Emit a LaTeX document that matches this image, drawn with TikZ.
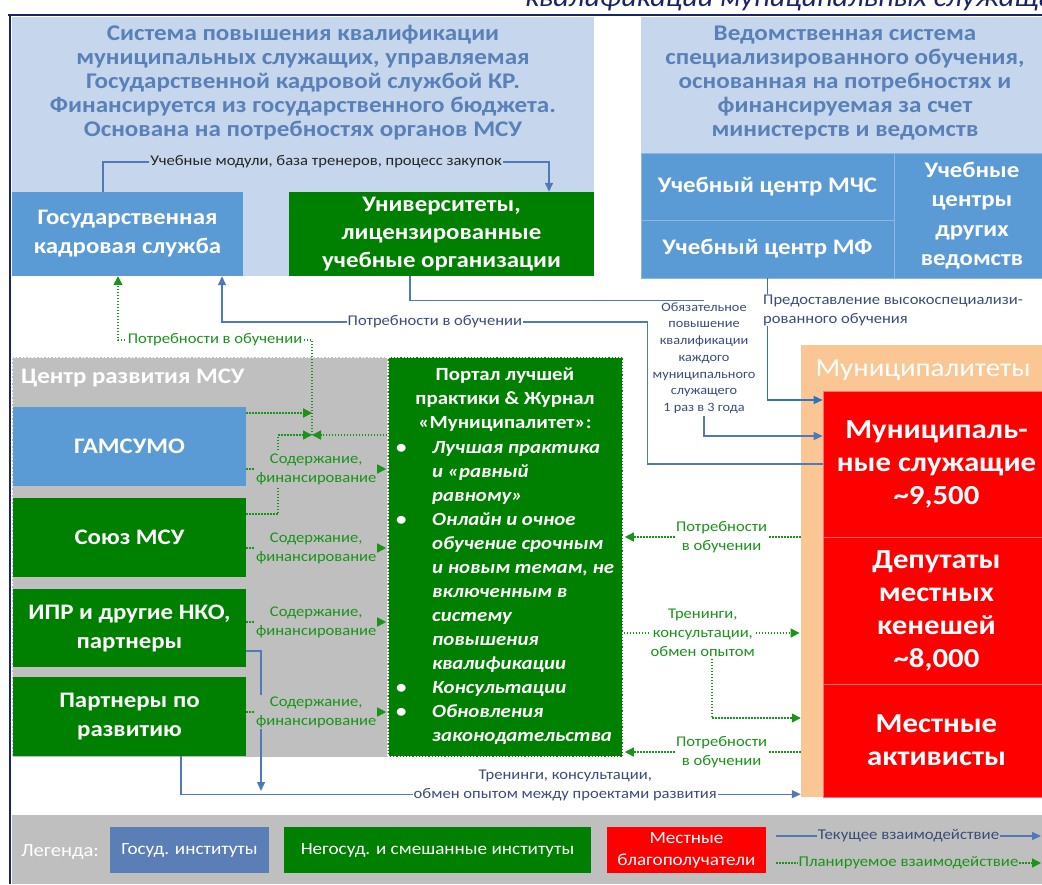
\documentclass[tikz,border=0pt]{standalone}
\usepackage{fontspec}
\setmainfont{Carlito}[FakeStretch=1.12]
\usetikzlibrary{arrows.meta}

\definecolor{bgblue}{HTML}{C6D6EC}
\definecolor{titleblue}{HTML}{5A80B8}
\definecolor{boxblue}{HTML}{5B9BD5}
\definecolor{sepblue}{HTML}{8DB6E0}
\definecolor{ngogreen}{HTML}{008000}
\definecolor{msugray}{HTML}{BFBFBF}
\definecolor{peach}{HTML}{FAC794}
\definecolor{redsep}{HTML}{FF7070}
\definecolor{curblue}{HTML}{5079B8}
\definecolor{brightblue}{HTML}{2E75B6}
\definecolor{slate}{HTML}{3B4D78}
\definecolor{plangreen}{HTML}{1A931A}
\definecolor{navy}{HTML}{1C2466}
\definecolor{legblue}{HTML}{5B7EB6}

\newcommand{\portalitem}[1]{\makebox[40pt][l]{\hspace{4pt}\textbullet}\textit{#1}}
\newcommand{\portalcont}[1]{\hspace*{40pt}\textit{#1}}

\tikzset{
  region/.style={inner sep=0pt},
  box/.style={inner sep=0pt, align=center, text=white, font=\bfseries\fontsize{22.2}{29}\selectfont},
  govbox/.style={box, fill=boxblue},
  ngobox/.style={box, fill=ngogreen},
  locbox/.style={box, fill=red, draw=redsep, line width=0.6pt, font=\bfseries\fontsize{27.5}{33}\selectfont},
  systitle/.style={align=center, text=titleblue, font=\bfseries\fontsize{22.4}{24}\selectfont},
  cur/.style={curblue, line width=1.4pt, -{Triangle[length=9pt,width=8pt]}},
  plan/.style={plangreen, line width=1.5pt, dash pattern=on 1.5pt off 1.5pt, -{Triangle[length=9pt,width=9pt]}},
  curlbl/.style={text=slate, font=\fontsize{14.8}{19}\selectfont, align=center, fill=white, inner sep=1pt},
  planlbl/.style={text=plangreen, font=\fontsize{14.8}{19}\selectfont, align=center, fill=white, inner sep=1pt},
  legbox/.style={inner sep=0pt, align=center, text=white, font=\fontsize{17.1}{22}\selectfont},
}

\begin{document}
\begin{tikzpicture}[x=1pt, y=-1pt]
\useasboundingbox (0,0) rectangle (1042,884);
\clip (0,0) rectangle (1042,884);

%% heading and frame
\node[anchor=base west, inner sep=0pt, text=navy, font=\itshape\fontsize{27}{30}\selectfont] (heading) at (525,6) {квалификации муниципальных служащих};
\draw[navy, line width=2.5pt] (8,15) -- (1042,15);
\draw[navy, line width=2pt] (10,15) -- (10,884);

%% state system
\node[region, fill=bgblue, minimum width=582, minimum height=259] (govsys) at (303,146.5) {};
\node[systitle] (govtitle) at (303,83) {Система повышения квалификации\\муниципальных служащих, управляемая\\Государственной кадровой службой КР.\\Финансируется из государственного бюджета.\\Основана на потребностях органов МСУ};
\node[govbox, minimum width=231, minimum height=84] (gks) at (127.5,234) {Государственная\\кадровая служба};
\node[ngobox, minimum width=305, minimum height=84, font=\bfseries\fontsize{22.2}{28}\selectfont] (univ) at (441.5,234) {Университеты,\\лицензированные\\учебные организации};

%% departmental system
\node[region, fill=bgblue, minimum width=409, minimum height=261] (depsys) at (845.5,147.5) {};
\node[systitle] (deptitle) at (845,83.5) {Ведомственная система\\специализированного обучения,\\основанная на потребностях и\\финансируемая за счет\\министерств и ведомств};
\node[govbox, draw=sepblue, minimum width=253, minimum height=67] (mchs) at (767.5,186.5) {Учебный центр МЧС};
\node[govbox, draw=sepblue, minimum width=253, minimum height=58] (mf) at (767.5,249) {Учебный центр МФ};
\node[govbox, draw=sepblue, minimum width=156, minimum height=125, font=\bfseries\fontsize{22.2}{29.5}\selectfont] (othc) at (972,215.5) {Учебные\\центры\\других\\ведомств};

%% MSU development centre
\node[region, fill=msugray, draw=white, line width=1pt, dash pattern=on 2pt off 1.5pt, minimum width=376, minimum height=400] (msuc) at (200,557) {};
\node[anchor=west, inner sep=0pt, text=white, font=\bfseries\fontsize{22.2}{25}\selectfont] (msutitle) at (21,378) {Центр развития МСУ};
\node[govbox, minimum width=233, minimum height=79] (gamsumo) at (129.5,446.5) {ГАМСУМО};
\node[ngobox, minimum width=233, minimum height=79] (soyuz) at (129.5,537.5) {Союз МСУ};
\node[ngobox, minimum width=233, minimum height=78] (ipr) at (129.5,628) {ИПР и другие НКО,\\партнеры};
\node[ngobox, minimum width=233, minimum height=79] (partners) at (129.5,716.5) {Партнеры по\\развитию};

%% portal
\node[region, fill=ngogreen, draw=white, line width=1.2pt, dash pattern=on 2pt off 1.2pt, minimum width=235, minimum height=400] (portal) at (505.5,557) {};
\node[anchor=north, inner sep=0pt, align=center, text=white, font=\bfseries\fontsize{18.6}{24}\selectfont] (ptitle) at (505,368) {Портал лучшей\\практики \& Журнал\\«Муниципалитет»:};
\node[anchor=north west, inner sep=0pt, align=left, text=white, font=\bfseries\fontsize{18.6}{24}\selectfont] (plist) at (392,441) {%
\portalitem{Лучшая практика}\\
\portalcont{и «равный}\\
\portalcont{равному»}\\
\portalitem{Онлайн и очное}\\
\portalcont{обучение срочным}\\
\portalcont{и новым темам, не}\\
\portalcont{включенным в}\\
\portalcont{систему}\\
\portalcont{повышения}\\
\portalcont{квалификации}\\
\portalitem{Консультации}\\
\portalitem{Обновления}\\
\portalcont{законодательства}};

%% municipalities
\node[region, fill=peach, minimum width=249, minimum height=452] (munic) at (925.5,571) {};
\node[inner sep=0pt, text=white, font=\fontsize{25.8}{28}\selectfont] (munictitle) at (923,370) {Муниципалитеты};
\node[locbox, minimum width=227, minimum height=146] (serv) at (936.5,464) {Муниципаль-\\ные служащие\\\textasciitilde9,500};
\node[locbox, minimum width=227, minimum height=147] (deput) at (936.5,610.5) {Депутаты\\местных\\кенешей\\\textasciitilde8,000};
\node[locbox, minimum width=227, minimum height=113] (activ) at (936.5,740.5) {Местные\\активисты};

%% current links
\draw[cur] ([xshift=-24.5pt]gks.north) |- ([xshift=107.5pt, yshift=30pt]univ.north)
  node[pos=0.75, curlbl, fill=bgblue, text=black!85] {Учебные модули, база тренеров, процесс закупок}
  -- ([xshift=107.5pt]univ.north);
\node[curlbl, font=\fontsize{12.75}{16.7}\selectfont, inner sep=2pt] (oblig) at (704,358) {Обязательное\\повышение\\квалификации\\каждого\\муниципального\\служащего\\1 раз в 3 года};
\draw[cur, -] ([xshift=-31.5pt]univ.south) |- (oblig.north);
\draw[cur] (oblig.south) |- ([yshift=28pt]serv.west);
\draw[cur, brightblue] (mf.south) |- ([yshift=64pt]serv.west);
\node[curlbl, anchor=west, align=left, inner sep=1pt] (highlbl) at (762,310) {Предоставление высокоспециализи-\\рованного обучения};
\draw[cur] (serv.west) -- ++(-175,0) -- ++(0,-142)
  -| node[pos=0.25, curlbl] {Потребности в обучении} ([xshift=94.5pt]gks.south);
\coordinate (merge) at (261,791);
\draw[cur] ([yshift=-23pt]ipr.east) -| (merge);
\draw[cur] ([xshift=51.5pt]partners.south) |- ([yshift=3pt]munic.south west)
  node[pos=0.81, curlbl, yshift=9pt] {Тренинги, консультации,\\обмен опытом между проектами развития};

%% planned links
\coordinate (join) at (312,435);
\draw[plan] (join) -- ++(0,-95)
  -| node[pos=0.25, planlbl] {Потребности в обучении} ([xshift=-9.5pt]gks.south);
\draw[plan] ([yshift=33.5pt]gamsumo.east) -- ++(66,0);
\draw[plan] ([yshift=23.5pt]soyuz.east) -- ++(32,0) |- (join);
\draw[plan] ([yshift=122pt]portal.west) -- (join);
\draw[plan] ([yshift=-22.5pt]gamsumo.east) -- node[planlbl, fill=msugray] {Содержание,\\финансирование} ++(140,0);
\draw[plan] ([yshift=-10.5pt]soyuz.east) -- node[planlbl, fill=msugray] {Содержание,\\финансирование} ++(140,0);
\draw[plan] ([yshift=6pt]ipr.east) -- node[planlbl, fill=msugray] {Содержание,\\финансирование} ++(140,0);
\draw[plan] ([yshift=4.5pt]partners.east) -- node[planlbl, fill=msugray] {Содержание,\\финансирование} ++(140,0);

\draw[plan] ([yshift=34pt]munic.west) -- node[pos=0.45, planlbl] {Потребности\\в обучении} ++(-176,0);
\draw[plan] ([yshift=-76pt]portal.east) -- node[pos=0.45, planlbl] (trlbl) {Тренинги,\\консультации,\\обмен опытом} ++(176,0);
\draw[plan] ([xshift=9pt]trlbl.south) |- ([yshift=-147pt]munic.west);
\draw[plan] ([yshift=-181pt]munic.west) -- node[pos=0.45, planlbl] {Потребности\\в обучении} ++(-176,0);

%% legend
\fill[msugray] (12,815) rectangle (1042,884);
\node[inner sep=0pt, text=white, font=\fontsize{18.4}{22}\selectfont] (legtitle) at (60,852) {Легенда:};
\node[legbox, fill=legblue, minimum width=159, minimum height=46] (leggov) at (189.5,850) {Госуд. институты};
\node[legbox, fill=ngogreen, minimum width=307, minimum height=46] (legngo) at (437.5,850) {Негосуд. и смешанные институты};
\node[legbox, fill=red, minimum width=159, minimum height=46] (legloc) at (686.5,850) {Местные\\благополучатели};
\coordinate (curA) at (776,836);
\coordinate (curB) at (1041,836);
\draw[cur] (curA) -- node[curlbl, fill=msugray, font=\fontsize{15}{19}\selectfont] {Текущее взаимодействие} (curB);
\coordinate (planA) at (776,863);
\coordinate (planB) at (1041,863);
\draw[plan] (planA) -- node[planlbl, fill=msugray, font=\fontsize{15}{19}\selectfont] {Планируемое взаимодействие} (planB);

\end{tikzpicture}
\end{document}
